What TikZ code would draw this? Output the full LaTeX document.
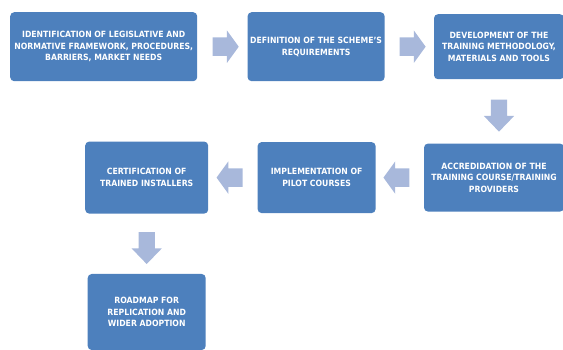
\documentclass[tikz,border=0pt]{standalone}
\usepackage{fontspec}
\newfontfamily\stagefont{DejaVu Sans Condensed}
\usepackage{xcolor}
\usetikzlibrary{positioning,calc,shapes.arrows}

\definecolor{stageblue}{RGB}{77,128,189}
\definecolor{arrowgrey}{RGB}{168,184,219}

\begin{document}
\begin{tikzpicture}[x=1pt,y=1pt,
  stage/.style={fill=stageblue,rounded corners=4pt,align=center,text=white,
    font=\stagefont\bfseries\fontsize{8.6}{11.7}\selectfont,inner sep=1pt},
  flowarrow/.style={single arrow,fill=arrowgrey,inner xsep=0pt,inner ysep=9pt,
    single arrow head extend=7pt,single arrow tip angle=108,minimum height=26pt},
  downarrow/.style={flowarrow,shape border rotate=270,inner xsep=8pt,inner ysep=0pt,
    single arrow tip angle=88,minimum height=32pt}]
  \useasboundingbox (0,0) rectangle (563,-350);
  % top row, left to right
  \node[stage,anchor=north west,minimum width=187pt,minimum height=69pt] (ident) at (10,-12)
    {IDENTIFICATION OF LEGISLATIVE AND\\NORMATIVE FRAMEWORK, PROCEDURES,\\BARRIERS, MARKET NEEDS};
  \node[stage,minimum width=137pt,minimum height=69pt,right=50pt of ident] (scheme)
    {DEFINITION OF THE SCHEME’S\\REQUIREMENTS};
  \node[stage,minimum width=130pt,minimum height=65pt,right=49pt of scheme] (develop)
    {DEVELOPMENT OF THE\\TRAINING METHODOLOGY,\\MATERIALS AND TOOLS};
  % middle row, right to left
  \node[stage,minimum width=140pt,minimum height=68pt,below=64pt of develop.south east,anchor=north east] (accred)
    {ACCREDIDATION OF THE\\TRAINING COURSE/TRAINING\\PROVIDERS};
  \node[stage,minimum width=118pt,minimum height=71pt,left=48pt of accred] (pilot)
    {IMPLEMENTATION OF\\PILOT COURSES};
  \node[stage,minimum width=123pt,minimum height=72pt,left=49pt of pilot] (certif)
    {CERTIFICATION OF\\TRAINED INSTALLERS};
  \node[stage,minimum width=118pt,minimum height=76pt,below=60pt of certif] (roadmap)
    {ROADMAP FOR\\REPLICATION AND\\WIDER ADOPTION};
  % block arrows between the stages
  \node[flowarrow] (a1) at ($(ident.east)!0.5!(scheme.west)$) {};
  \node[flowarrow] (a2) at ($(scheme.east)!0.5!(develop.west)$) {};
  \node[downarrow] (a3) at ($(develop.south)!0.5!(develop.south |- accred.north)$) {};
  \node[flowarrow,shape border rotate=180] (a4) at ($(accred.west)!0.5!(pilot.east)$) {};
  \node[flowarrow,shape border rotate=180] (a5) at ($(pilot.west)!0.5!(certif.east)$) {};
  \node[downarrow] (a6) at ($(certif.south)!0.5!(roadmap.north)$) {};
\end{tikzpicture}
\end{document}
